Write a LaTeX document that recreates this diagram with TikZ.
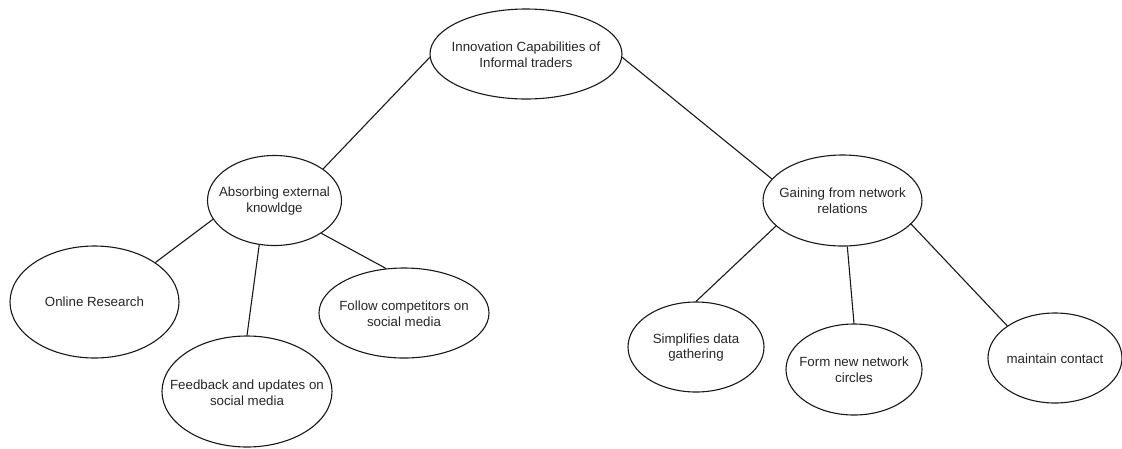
\documentclass[tikz,border=0pt]{standalone}
\usepackage{fontspec}
\setmainfont{Liberation Sans}
\usetikzlibrary{shapes.geometric}
\begin{document}
\begin{tikzpicture}[x=1pt,y=-1pt,
  bub/.style={ellipse, draw=black!90, line width=1.1pt, inner sep=0pt},
  txt/.style={font=\fontsize{13.3}{15.6}\selectfont, align=center, text=black!85, inner sep=0pt},
  edge/.style={draw=black!90, line width=1.1pt}]
\useasboundingbox (0,0) rectangle (1122,448);
% ellipses
\node[bub, minimum width=192, minimum height=90] (root) at (526,54) {};
\node[bub, minimum width=134, minimum height=90] (abs) at (274.5,200.5) {};
\node[bub, minimum width=169, minimum height=112] (online) at (94.5,302) {};
\node[bub, minimum width=170, minimum height=111] (feed) at (247,391.5) {};
\node[bub, minimum width=170, minimum height=90] (follow) at (404,313) {};
\node[bub, minimum width=159, minimum height=91] (gain) at (842.5,200.5) {};
\node[bub, minimum width=136, minimum height=90] (simp) at (696,347) {};
\node[bub, minimum width=136, minimum height=91] (form) at (854,369.5) {};
\node[bub, minimum width=134, minimum height=90] (maint) at (1055,358) {};
% texts
\node[txt] (roott) at (526,54.5) {Innovation Capabilities of\\Informal traders};
\node[txt] (abst) at (274.5,201) {Absorbing external\\knowldge};
\node[txt] (onlinet) at (94.5,302) {Online Research};
\node[txt] (feedt) at (247,392.5) {Feedback and updates on\\social media};
\node[txt] (followt) at (404,313.5) {Follow competitors on\\social media};
\node[txt] (gaint) at (842.5,201) {Gaining from network\\relations};
\node[txt] (simpt) at (696,347.5) {Simplifies data\\gathering};
\node[txt] (formt) at (854,369.5) {Form new network\\circles};
\node[txt] (maintt) at (1055,359) {maintain contact};
% connectors
\draw[edge] (root.182) -- (abs.33);
\draw[edge] (root.358) -- (gain.163);
\draw[edge] (abs.197) -- (online.33);
\draw[edge] (abs.251) -- (feed.90);
\draw[edge] (abs.325) -- (follow.112);
\draw[edge] (gain.201) -- (simp.90);
\draw[edge] (gain.276) -- (form.90);
\draw[edge] (gain.341) -- (maint.146);
\end{tikzpicture}
\end{document}
